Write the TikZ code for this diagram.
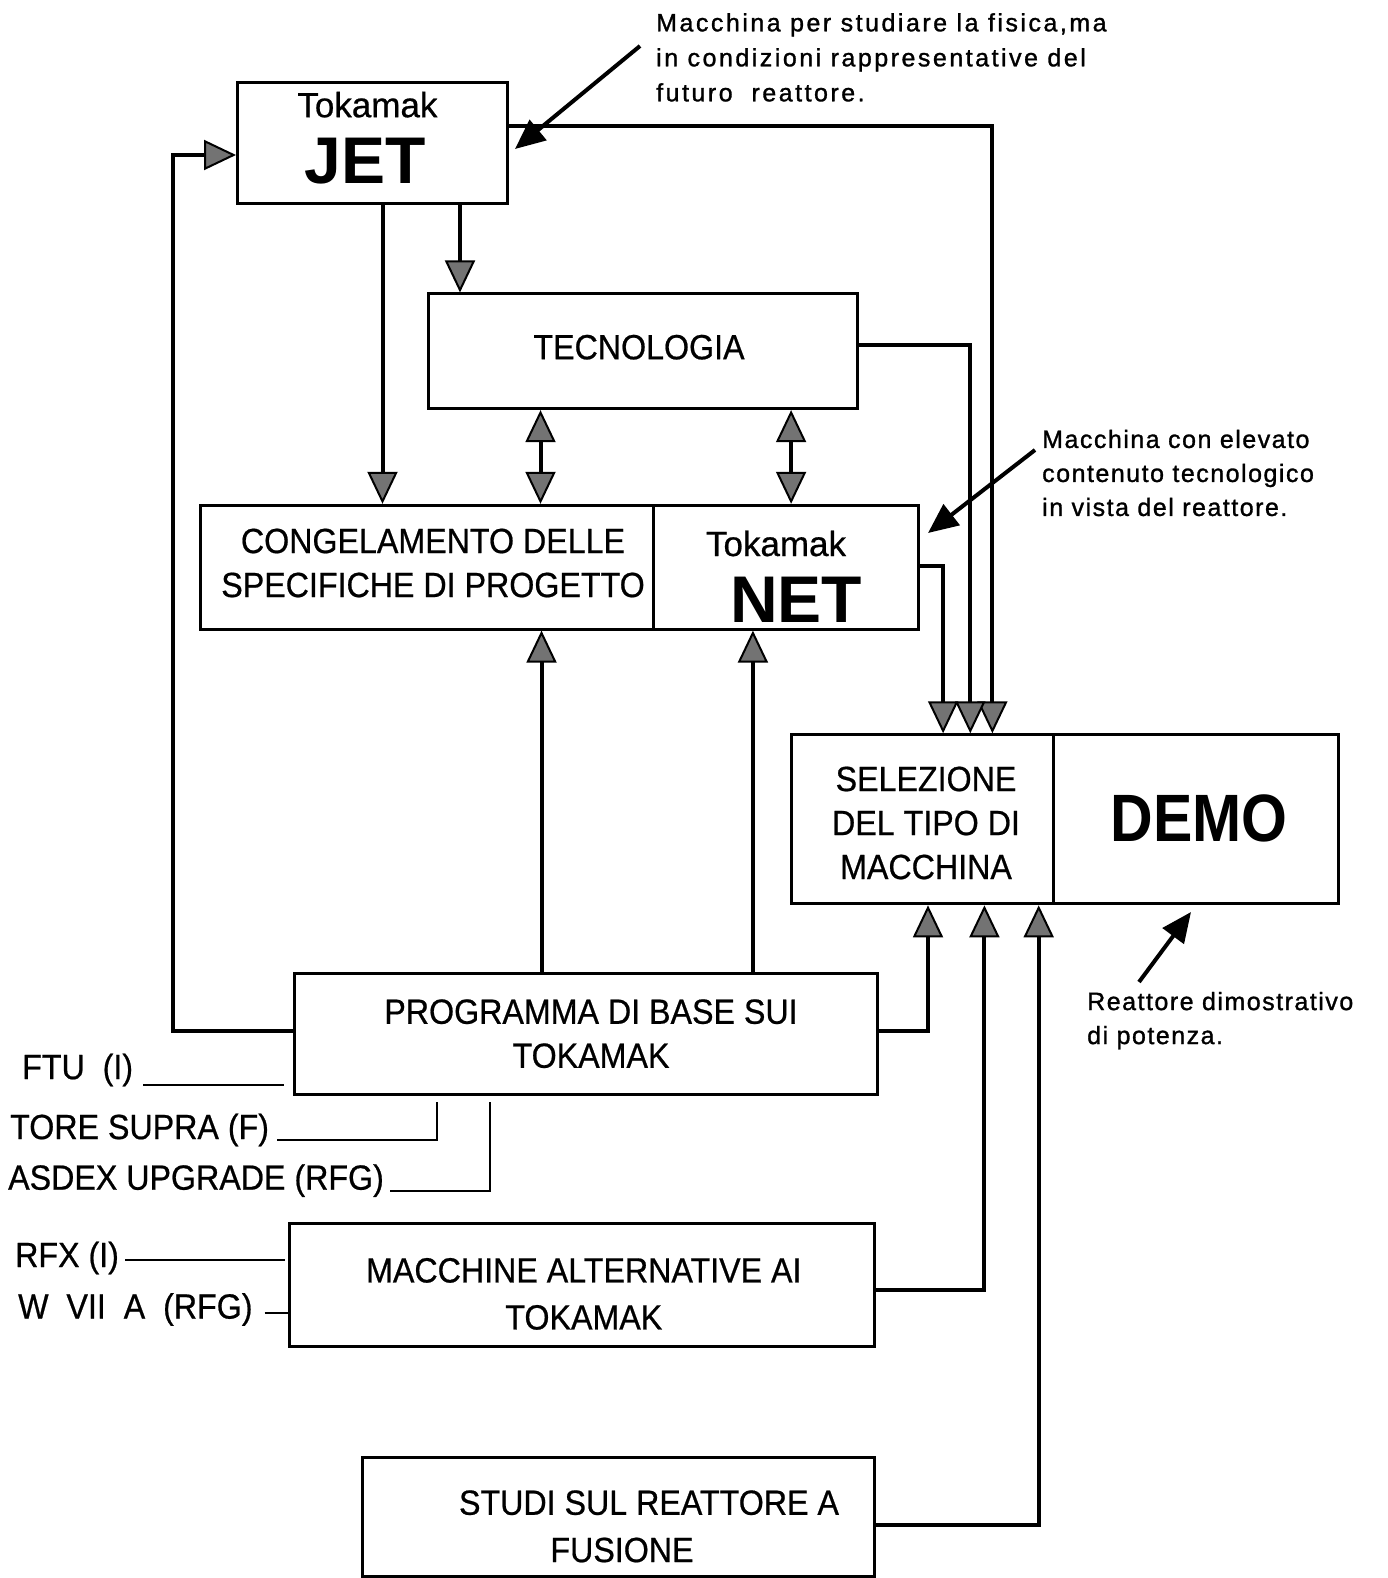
\documentclass[tikz,border=0pt]{standalone}
\usepackage{fontspec}
\setmainfont{Liberation Sans}
\newfontfamily\condf[FakeStretch=0.92,FakeBold=0.6]{Liberation Sans}
\newfontfamily\condbf[FakeStretch=0.88]{Liberation Sans Bold}
\newfontfamily\annf[LetterSpace=10,FakeBold=1.2]{Liberation Sans}
\newfontfamily\annsf[LetterSpace=6,FakeBold=1.2]{Liberation Sans}
\newfontfamily\tokf[FakeBold=0.6]{Liberation Sans}
\usetikzlibrary{arrows.meta,calc}
\newcommand\bxf{\condf\fontsize{35}{44}\selectfont}
\newcommand\bxfw{\condf\fontsize{35}{47}\selectfont}
\newcommand\tkf{\tokf\fontsize{35}{40}\selectfont}
\newcommand\bigf{\bfseries\fontsize{66}{70}\selectfont}
\newcommand\anf{\annf\fontsize{25}{35}\selectfont}
\newcommand\ansf{\annsf\fontsize{25}{34}\selectfont}
\tikzset{
  box/.style={draw, line width=3pt, inner sep=0pt},
  txt/.style={inner sep=0pt, align=center},
  lbl/.style={inner sep=0pt, anchor=west, font=\bxf},
  anntxt/.style={inner sep=0pt, anchor=west, align=left, font=\anf},
  >={Triangle[length=32pt,width=30pt,fill=black!55,line width=2pt]},
  conn/.style={line width=4pt, ->},
  dconn/.style={line width=4pt, <->},
  ann/.style={line width=4pt, -{Triangle[length=30pt,width=26pt]}},
  lline/.style={line width=2.5pt}
}
\begin{document}
\begin{tikzpicture}[x=1pt,y=-1pt]
\useasboundingbox[fill=white] (0,0) rectangle (1387,1578);

% boxes
\node[box, minimum width=269.8pt, minimum height=120.8pt] (jet) at (372.4,142.9) {};
\node[box, minimum width=428.7pt, minimum height=114.7pt] (tec) at (643.2,351.3) {};
\node[box, minimum width=452.9pt, minimum height=123.8pt] (cong) at (426.8,567.2) {};
\node[box, minimum width=265.7pt, minimum height=123.8pt] (net) at (786.1,567.2) {};
\node[box, minimum width=262.7pt, minimum height=169.1pt] (sel) at (922.5,819.3) {};
\node[box, minimum width=284.9pt, minimum height=169.1pt] (demo) at (1196.3,819.3) {};
\node[box, minimum width=582.8pt, minimum height=120.8pt] (prog) at (586.3,1033.7) {};
\node[box, minimum width=584.8pt, minimum height=122.8pt] (macc) at (582.3,1285.3) {};
\node[box, minimum width=512.4pt, minimum height=118.6pt] (studi) at (618.5,1516.7) {};

% box texts
\node[txt, font=\tkf] (tjet) at (367.4,104.7) {Tokamak};
\node[txt, font=\bigf] (jetname) at (365.4,161) {JET};
\node[txt, font=\bxf] (ttec) at (639,347.2) {TECNOLOGIA};
\node[txt, font=\bxf] (tcong) at (433,563) {CONGELAMENTO DELLE\\SPECIFICHE DI PROGETTO};
\node[txt, font=\tkf] (tnet) at (776,543.5) {Tokamak};
\node[txt, font=\bigf] (netname) at (796,600) {NET};
\node[txt, font=\bxf] (tsel) at (926,823) {SELEZIONE\\DEL TIPO DI\\MACCHINA};
\node[txt, font={\condbf\fontsize{67}{70}\selectfont}] (demoname) at (1199,818) {DEMO};
\node[txt, font=\bxf] (tprog) at (591,1033.7) {PROGRAMMA DI BASE SUI\\TOKAMAK};
\node[txt, font=\bxfw] (tmacc) at (583.8,1293.9) {MACCHINE ALTERNATIVE AI\\TOKAMAK};
\node[txt, font=\bxf] (tstudi1) at (649,1502.7) {STUDI SUL REATTORE A};
\node[txt, font=\bxf] (tstudi2) at (622,1550) {FUSIONE};

% annotations
\node[anntxt] (n1) at (656,57.4) {Macchina per studiare la fisica,ma\\in condizioni rappresentative del\\futuro\ \ reattore.};
\node[anntxt, font=\ansf] (n2) at (1042,473) {Macchina con elevato\\contenuto tecnologico\\in vista del reattore.};
\node[anntxt, font=\ansf] (n3) at (1087,1020.6) {Reattore\ dimostrativo\\di potenza.};
\coordinate (a1s) at (640,46);  \coordinate (a1e) at (515,149);
\coordinate (a2s) at (1035,450); \coordinate (a2e) at (928,533);
\coordinate (a3s) at (1139,982); \coordinate (a3e) at (1191,912);
\draw[ann] (a1s) -- (a1e);
\draw[ann] (a2s) -- (a2e);
\draw[ann] (a3s) -- (a3e);

% left labels
\node[lbl] (ftu) at (22,1070) {FTU\ \ (I)};
\node[lbl] (tore) at (10,1130) {TORE SUPRA (F)};
\node[lbl] (asdex) at (8,1180.6) {ASDEX UPGRADE (RFG)};
\node[lbl] (rfx) at (15,1258) {RFX (I)};
\node[lbl] (w7) at (18,1309.5) {W\ \ VII\ \ A\ \ (RFG)};
\coordinate (ftuend) at (284,1085);
\coordinate (toreend) at (437,1102);
\coordinate (asdexend) at (490,1102);
\coordinate (rfxend) at (285,1260);
\draw[lline] ($(ftu.east |- 0,1085)+(10,0)$) -- (ftuend);
\draw[lline] ($(tore.east |- 0,1140)+(8,0)$) -| (toreend);
\draw[lline] ($(asdex.east |- 0,1191)+(6,0)$) -| (asdexend);
\draw[lline] ($(rfx.east |- 0,1260)+(6,0)$) -- (rfxend);
\draw[lline] ($(w7.east |- 0,1313)+(12,0)$) -- (macc.west |- 0,1313);

% connectors
\draw[conn] (prog.west |- 0,1031) -| (173,155) -- (jet.west |- 0,155);
\draw[conn] (jet.south -| 382.5,0) -- (cong.north -| 382.5,0);
\draw[conn] (jet.south -| 460,0) -- (tec.north -| 460,0);
\draw[conn] (jet.east |- 0,125.8) -| (sel.north -| 992.4,0);
\draw[conn] (tec.east |- 0,345.2) -| (sel.north -| 970.3,0);
\draw[conn] (net.east |- 0,565.7) -| (sel.north -| 943.1,0);
\draw[dconn] (tec.south -| 540.5,0) -- (cong.north -| 540.5,0);
\draw[dconn] (tec.south -| 791.1,0) -- (net.north -| 791.1,0);
\draw[conn] (prog.north -| 541.5,0) -- (cong.south -| 541.5,0);
\draw[conn] (prog.north -| 752.9,0) -- (net.south -| 752.9,0);
\draw[conn] (prog.east |- 0,1030.7) -| (sel.south -| 928,0);
\draw[conn] (macc.east |- 0,1290.3) -| (sel.south -| 984.4,0);
\draw[conn] (studi.east |- 0,1524.8) -| (sel.south -| 1038.7,0);
\end{tikzpicture}
\end{document}
